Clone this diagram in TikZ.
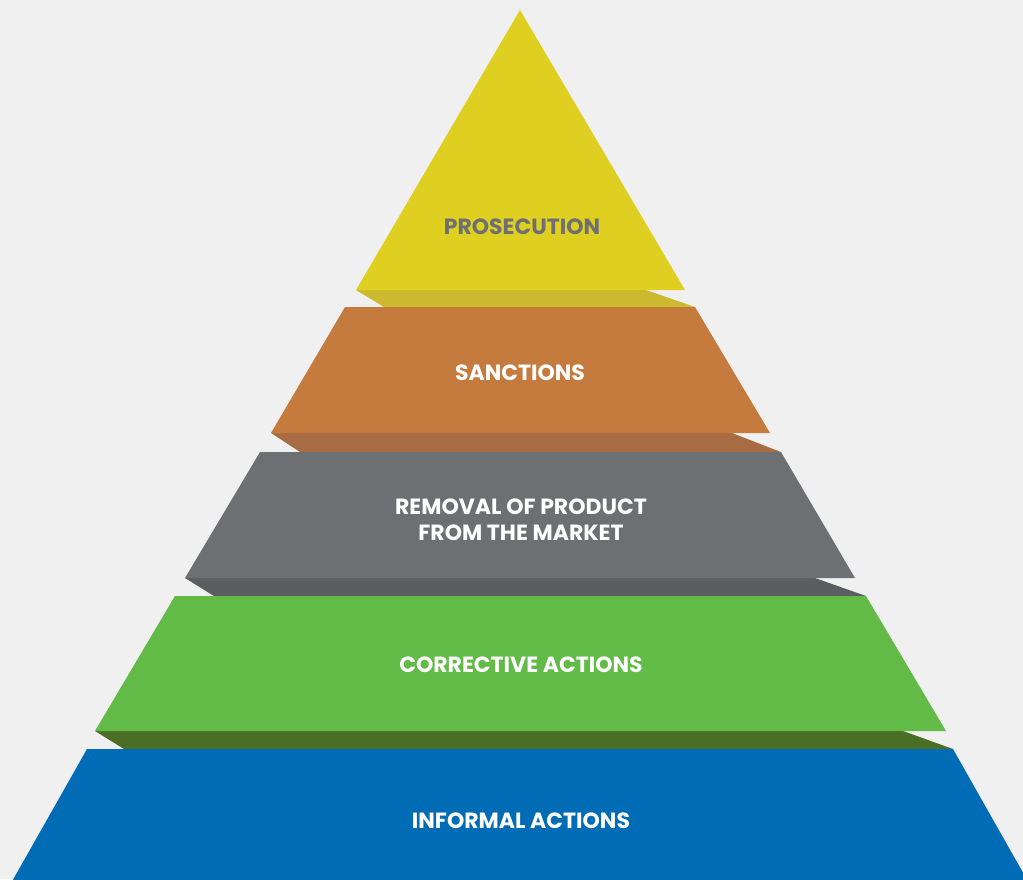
\documentclass[tikz,border=0pt]{standalone}
\usepackage{fontspec}
\setmainfont{Poppins}
\definecolor{bg}{HTML}{F0F0F0}
\definecolor{yel}{HTML}{DFCF20}
\definecolor{yelS}{HTML}{CDB930}
\definecolor{ora}{HTML}{C67B3E}
\definecolor{oraS}{HTML}{A86C44}
\definecolor{gra}{HTML}{6E6F73}
\definecolor{graS}{HTML}{5C5D61}
\definecolor{gre}{HTML}{62BA47}
\definecolor{greS}{HTML}{4A6E25}
\definecolor{blu}{HTML}{006CB5}
\tikzset{lbl/.style={font=\fontsize{22}{26}\selectfont\bfseries, text=white, align=center}}
\begin{document}
\begin{tikzpicture}[x=1pt,y=-1pt]
\useasboundingbox (0,0) rectangle (1023,879);
\fill[bg] (0,0) rectangle (1023,879);
\begin{scope}
\clip (0,0) rectangle (1023,879);
% shelves
\fill[yelS] (356,290) -- (646,290) -- (695,307) -- (384,307) -- cycle;
\fill[oraS] (271,433) -- (732,433) -- (781,452) -- (300,452) -- cycle;
\fill[graS] (185,578) -- (815,578) -- (866,596) -- (214,596) -- cycle;
\fill[greS] (95,731) -- (903,731) -- (953,749) -- (124,749) -- cycle;
% tiers
\fill[yel] (520,10) -- (685,290) -- (356,290) -- cycle;
\fill[ora] (345,307) -- (695,307) -- (770,433) -- (271,433) -- cycle;
\fill[gra] (260,452) -- (781,452) -- (855,578) -- (185,578) -- cycle;
\fill[gre] (175,596) -- (866,596) -- (946,731) -- (95,731) -- cycle;
\fill[blu] (87,749) -- (953,749) -- (1030,885) -- (10,885) -- cycle;
\end{scope}
\node[lbl, text=gra] (prosecution) at (522,227) {PROSECUTION};
\node[lbl] (sanctions) at (520,373) {SANCTIONS};
\node[lbl] (removal) at (521,520) {REMOVAL OF PRODUCT\\FROM THE MARKET};
\node[lbl] (corrective) at (521,665) {CORRECTIVE ACTIONS};
\node[lbl] (informal) at (521,821) {INFORMAL ACTIONS};
\end{tikzpicture}
\end{document}
